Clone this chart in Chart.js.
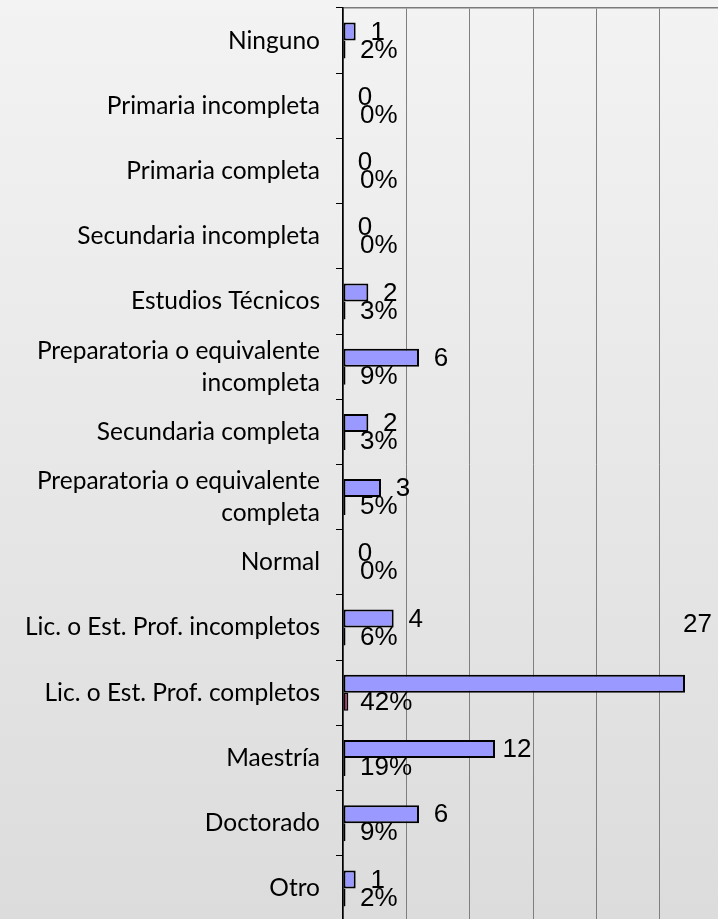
<!DOCTYPE html>
<html lang="es">
<head>
  <meta charset="UTF-8" />
  <title>Escolaridad</title>
  <script src="https://cdn.jsdelivr.net/npm/chart.js"></script>
  <style>
    html, body { margin: 0; padding: 0; width: 718px; height: 919px; overflow: hidden; }
    body { background: linear-gradient(#f3f3f3, #dcdcdc); }
    canvas { display: block; }
  </style>
</head>
<body>
  <canvas id="grafica" width="740" height="930"></canvas>

  <script>
    // Datos
    const categorias = [
      'Ninguno',
      'Primaria incompleta',
      'Primaria completa',
      'Secundaria incompleta',
      'Estudios Técnicos',
      ['Preparatoria o equivalente', 'incompleta'],
      'Secundaria completa',
      ['Preparatoria o equivalente', 'completa'],
      'Normal',
      'Lic. o Est. Prof. incompletos',
      'Lic. o Est. Prof. completos',
      'Maestría',
      'Doctorado',
      'Otro'
    ];
    const frecuencias = [1, 0, 0, 0, 2, 6, 2, 3, 0, 4, 27, 12, 6, 1];
    const porcentajes = [0.02, 0, 0, 0, 0.03, 0.09, 0.03, 0.05, 0, 0.06, 0.42, 0.19, 0.09, 0.02];
    const etiquetasPct = ['2%', '0%', '0%', '0%', '3%', '9%', '3%', '5%', '0%', '6%', '42%', '19%', '9%', '2%'];

    // etiquetas de valor (estilo Excel)
    const etiquetas = {
      id: 'etiquetas',
      afterDatasetsDraw(chart) {
        const ctx = chart.ctx;
        const x = chart.scales.x, y = chart.scales.y;
        const alto = (y.bottom - y.top) / categorias.length;
        const visible = window.innerWidth;
        const base = x.getPixelForValue(0);
        const barras = chart.getDatasetMeta(0).data;
        ctx.save();
        ctx.fillStyle = '#000';
        ctx.font = '26px "Liberation Sans", Arial, sans-serif';
        ctx.textBaseline = 'middle';
        barras.forEach((el, i) => {
          const txt = String(frecuencias[i]);
          const w = ctx.measureText(txt).width;
          let cx = el.x + 22, cy = el.y;
          if (cx + w / 2 > visible - 4) {
            // no cabe: Excel la sube a la fila de arriba
            cx = visible - 6 - w / 2;
            cy = el.y - alto * 0.92;
          }
          ctx.textAlign = 'center';
          ctx.fillText(txt, cx, cy + 1);

          ctx.textAlign = 'left';
          const px = Math.max(x.getPixelForValue(porcentajes[i]) + 12, base + 17);
          ctx.fillText(etiquetasPct[i], px, el.y + el.height + 1);
        });
        ctx.restore();
      }
    };

    new Chart(document.getElementById('grafica'), {
      type: 'bar',
      data: {
        labels: categorias,
        datasets: [
          {
            label: 'Frecuencia',
            data: frecuencias,
            backgroundColor: '#9999ff',
            borderColor: '#000000',
            borderWidth: 2,
            borderSkipped: false
          },
          {
            label: 'Porcentaje',
            data: porcentajes.map(v => v || null),
            backgroundColor: '#993366',
            borderColor: '#000000',
            borderWidth: 1.5,
            borderSkipped: false,
            minBarLength: 2.5
          }
        ]
      },
      options: {
        indexAxis: 'y',
        responsive: false,
        animation: false,
        categoryPercentage: 0.552,
        barPercentage: 1,
        layout: { padding: { top: 8, right: 17, bottom: 9, left: 0 } },
        plugins: {
          legend: { display: false },
          tooltip: { enabled: false }
        },
        scales: {
          x: {
            position: 'top',
            min: 0,
            max: 30,
            afterFit(scale) { scale.height = 0; scale.paddingLeft = 0; scale.paddingRight = 0; },
            ticks: { display: false, stepSize: 5 },
            grid: { color: '#7f7f7f', lineWidth: 1, drawTicks: false },
            border: { color: '#7a7a7a', width: 1.5 }
          },
          y: {
            afterFit(scale) { scale.width = 343; scale.paddingTop = 0; scale.paddingBottom = 0; },
            ticks: {
              color: '#000',
              padding: 16,
              autoSkip: false,
              font: { family: 'Lato', size: 24.5, lineHeight: 1.3 }
            },
            grid: { offset: true, drawOnChartArea: false, tickLength: 7, color: '#000', lineWidth: 1 },
            border: { color: '#000', width: 1.5 }
          }
        }
      },
      plugins: [etiquetas]
    });
  </script>
</body>
</html>
